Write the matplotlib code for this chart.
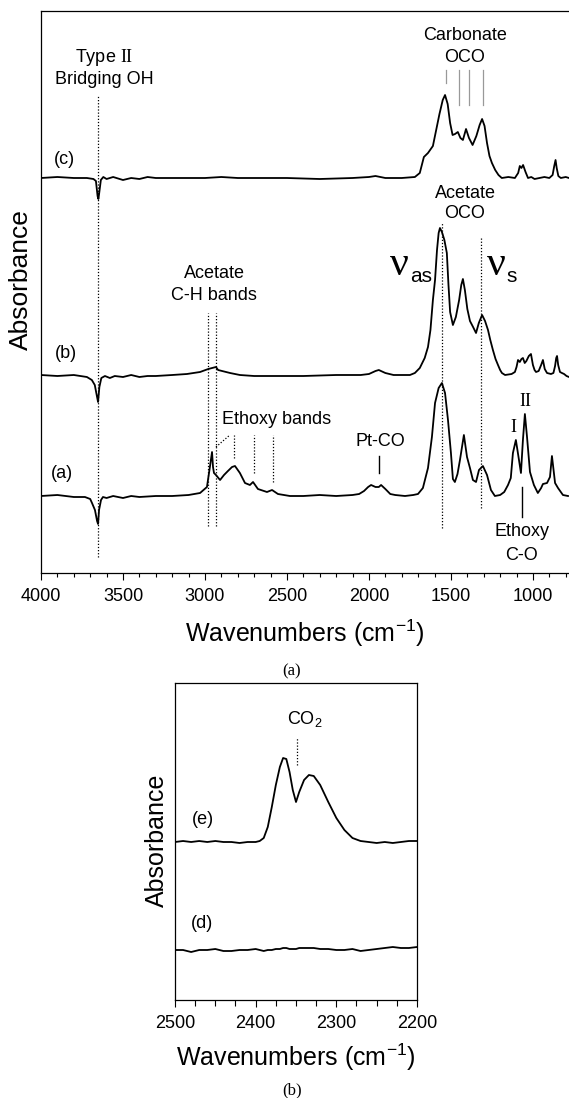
import matplotlib.pyplot as plt
from matplotlib.ticker import MultipleLocator

plt.rcParams['font.family'] = 'Liberation Sans'
plt.rcParams['mathtext.fontset'] = 'custom'
plt.rcParams['mathtext.rm'] = 'Liberation Serif'
plt.rcParams['mathtext.sf'] = 'Liberation Sans'

# spectra: wavenumber (cm-1) and absorbance above each baseline (a.u.)
wn_a = [4000, 3900, 3800, 3732, 3700, 3689, 3671, 3658, 3652, 3646, 3634, 3622, 3600, 3560, 3500,
        3450, 3400, 3300, 3200, 3100, 3030, 2988, 2970, 2957, 2951, 2945, 2933, 2908, 2884, 2860,
        2835, 2817, 2787, 2756, 2726, 2707, 2677, 2622, 2591, 2555, 2482, 2400, 2300, 2200, 2100,
        2060, 2030, 2005, 1987, 1960, 1940, 1926, 1900, 1870, 1840, 1780, 1730, 1701, 1671, 1640,
        1616, 1597, 1575, 1555, 1536, 1518, 1500, 1488, 1476, 1460, 1445, 1421, 1402, 1384, 1366,
        1347, 1329, 1305, 1280, 1256, 1232, 1200, 1175, 1152, 1135, 1122, 1104, 1085, 1073, 1061,
        1049, 1036, 1018, 994, 970, 950, 939, 914, 896, 884, 865, 847, 817, 786]
abs_a = [0, 0.01, -0.01, -0.01, -0.03, -0.07, -0.14, -0.25, -0.28, -0.14, -0.04, -0.01, -0.02, 0, -0.02,
         0, -0.01, 0, 0, 0.01, 0.03, 0.09, 0.29, 0.44, 0.29, 0.23, 0.21, 0.16, 0.21, 0.25,
         0.29, 0.30, 0.23, 0.13, 0.11, 0.14, 0.07, 0.04, 0.06, 0.02, 0, 0, 0.01, 0, 0.01,
         0.02, 0.05, 0.09, 0.11, 0.09, 0.09, 0.11, 0.07, 0.02, 0.01, 0, 0.01, 0.02, 0.08, 0.28,
         0.59, 0.93, 1.08, 1.13, 1.03, 0.76, 0.43, 0.17, 0.14, 0.22, 0.36, 0.61, 0.39, 0.28, 0.16,
         0.14, 0.26, 0.30, 0.21, 0.06, 0, 0.01, 0.04, 0.11, 0.18, 0.43, 0.56, 0.36, 0.23, 0.56,
         0.82, 0.59, 0.24, 0.11, 0.03, 0.08, 0.12, 0.13, 0.19, 0.40, 0.13, 0.08, 0.01, 0]

wn_b = [4000, 3900, 3800, 3720, 3690, 3672, 3658, 3652, 3644, 3632, 3610, 3580, 3550, 3500, 3450,
        3400, 3350, 3300, 3200, 3110, 3030, 2980, 2933, 2920, 2847, 2787, 2700, 2600, 2400, 2200,
        2050, 2000, 1960, 1940, 1900, 1850, 1780, 1750, 1720, 1690, 1660, 1640, 1625, 1610, 1597,
        1585, 1575, 1567, 1555, 1540, 1525, 1515, 1505, 1488, 1470, 1450, 1437, 1427, 1415, 1400,
        1384, 1365, 1347, 1330, 1310, 1292, 1274, 1260, 1244, 1228, 1213, 1200, 1189, 1170, 1130,
        1110, 1100, 1091, 1080, 1070, 1061, 1050, 1040, 1025, 1012, 1000, 990, 981, 965, 950,
        939, 928, 914, 890, 875, 865, 858, 853, 846, 835, 823, 810, 795, 780]
abs_b = [0, -0.01, 0, -0.02, -0.05, -0.10, -0.22, -0.27, -0.12, -0.03, -0.01, -0.03, -0.01, -0.02, 0,
         -0.02, -0.01, -0.01, 0, 0.01, 0.03, 0.06, 0.08, 0.05, 0.02, 0, -0.01, -0.01, -0.01, 0,
         0, 0.01, 0.04, 0.05, 0.02, 0, 0, 0, 0.02, 0.07, 0.17, 0.28, 0.45, 0.75, 0.95,
         1.25, 1.42, 1.47, 1.43, 1.35, 1.22, 0.90, 0.63, 0.50, 0.58, 0.75, 0.90, 0.96, 0.85, 0.66,
         0.54, 0.48, 0.42, 0.52, 0.60, 0.54, 0.45, 0.35, 0.25, 0.16, 0.10, 0.05, 0.02, 0, 0.01,
         0.03, 0.08, 0.15, 0.13, 0.16, 0.17, 0.12, 0.14, 0.19, 0.21, 0.10, 0.05, 0.03, 0.04, 0.10,
         0.15, 0.06, 0.02, 0.01, 0.02, 0.09, 0.17, 0.19, 0.10, 0.03, 0.02, 0.01, -0.01, -0.02]

wn_c = [4000, 3900, 3800, 3720, 3680, 3665, 3655, 3650, 3645, 3635, 3620, 3600, 3560, 3500, 3450,
        3400, 3350, 3300, 3200, 3000, 2900, 2800, 2500, 2300, 2100, 2000, 1960, 1900, 1800, 1720,
        1690, 1665, 1640, 1610, 1590, 1570, 1550, 1536, 1520, 1505, 1490, 1475, 1458, 1442, 1427,
        1408, 1390, 1368, 1345, 1325, 1310, 1295, 1280, 1265, 1250, 1230, 1210, 1190, 1150, 1110,
        1090, 1080, 1070, 1060, 1045, 1030, 1010, 990, 960, 930, 900, 880, 870, 862, 855,
        845, 830, 800, 780]
abs_c = [0, 0.01, 0, 0, -0.01, -0.03, -0.18, -0.21, -0.15, -0.02, 0.01, -0.01, 0.01, -0.02, 0,
         -0.01, 0.01, 0, 0, 0, 0.01, 0, 0, -0.01, 0, 0.01, 0.02, 0, 0, 0.01,
         0.05, 0.21, 0.25, 0.32, 0.48, 0.64, 0.78, 0.83, 0.74, 0.55, 0.43, 0.44, 0.46, 0.40, 0.38,
         0.49, 0.40, 0.33, 0.42, 0.53, 0.59, 0.52, 0.35, 0.22, 0.15, 0.08, 0.03, 0, 0.01, 0,
         0.05, 0.12, 0.10, 0.13, 0.06, 0, 0.01, -0.01, 0, 0.01, 0, 0.03, 0.12, 0.18, 0.10,
         0.02, 0, 0.01, 0]

wn_de = [2500, 2490, 2480, 2470, 2460, 2450, 2440, 2430, 2420, 2410, 2400, 2395, 2390, 2385, 2380,
         2375, 2370, 2366, 2362, 2358, 2354, 2350, 2346, 2340, 2334, 2328, 2320, 2310, 2300, 2290,
         2280, 2270, 2260, 2250, 2240, 2230, 2220, 2210, 2200]
abs_e = [0, 0.01, 0, 0.01, 0, 0.01, 0, 0, -0.01, 0, 0, 0.01, 0.04, 0.15, 0.35,
         0.57, 0.75, 0.84, 0.83, 0.70, 0.52, 0.40, 0.50, 0.62, 0.67, 0.66, 0.57, 0.40, 0.24, 0.12,
         0.04, 0.01, 0, -0.01, 0, -0.01, 0, 0.01, 0.01]
abs_d = [0, 0, -0.02, 0, 0, 0.01, -0.01, -0.01, 0, 0, 0.01, 0, -0.01, 0, 0,
         0.01, 0.01, 0.02, 0.02, 0.01, 0.01, 0.01, 0.02, 0.02, 0.02, 0.02, 0.01, 0.01, 0, 0,
         0.01, -0.01, 0, 0.01, 0.02, 0.03, 0.02, 0.02, 0.03]

offsets_top = {'a': 0.77, 'b': 1.98, 'c': 3.95}
offsets_bot = {'d': 0.50, 'e': 1.58}

fig = plt.figure(figsize=(5.69, 10.98), dpi=100)

# ---- panel (a)
ax = fig.add_axes([41 / 569, 1 - 573 / 1098, 1 - 41 / 569, 562 / 1098])
ax.plot(wn_a, [v + offsets_top['a'] for v in abs_a], color='black', lw=1.3)
ax.plot(wn_b, [v + offsets_top['b'] for v in abs_b], color='black', lw=1.3)
ax.plot(wn_c, [v + offsets_top['c'] for v in abs_c], color='black', lw=1.3)
ax.set_xlim(4000, 780)
ax.set_ylim(0, 5.62)
ax.xaxis.set_major_locator(MultipleLocator(500))
ax.xaxis.set_minor_locator(MultipleLocator(100))
ax.tick_params(axis='x', which='major', direction='out', length=5, width=0.8, labelsize=13, pad=6)
ax.tick_params(axis='x', which='minor', direction='out', length=3, width=0.8)
ax.set_yticks([])
ax.spines['right'].set_visible(False)
for s in ['top', 'left', 'bottom']:
    ax.spines[s].set_linewidth(0.9)

dot = dict(color='black', lw=0.9, ls=(0, (1, 1.5)))
ax.plot([3652, 3652], [0.16, 4.77], **dot)
ax.plot([2980, 2980], [0.47, 2.60], **dot)
ax.plot([2933, 2933], [0.47, 2.60], **dot)
ax.plot([2820, 2820], [1.15, 1.38], **dot)
ax.plot([2700, 2700], [1.00, 1.38], **dot)
ax.plot([2585, 2585], [0.91, 1.38], **dot)
ax.plot([2933, 2848], [1.26, 1.38], **dot)
ax.plot([1554, 1554], [0.45, 3.50], **dot)
ax.plot([1315, 1315], [0.65, 3.36], **dot)

for w, y0 in zip([1530, 1451, 1390, 1305], [4.90, 4.68, 4.68, 4.68]):
    ax.plot([w, w], [y0, 5.03], color='#999999', lw=0.9)
ax.plot([1939, 1939], [1.00, 1.17], color='black', lw=1.0)
ax.plot([1067, 1067], [0.56, 0.86], color='black', lw=1.0)

fs = 13
ax.text(3616, 5.15, r'Type $\mathrm{II}$', fontsize=fs, ha='center', va='center')
ax.text(3616, 4.93, 'Bridging OH', fontsize=fs, ha='center', va='center')
ax.text(3860, 4.13, '(c)', fontsize=fs, ha='center', va='center')
ax.text(3850, 2.19, '(b)', fontsize=fs, ha='center', va='center')
ax.text(3870, 1.00, '(a)', fontsize=fs, ha='center', va='center')
ax.text(1414, 5.38, 'Carbonate', fontsize=fs, ha='center', va='center')
ax.text(1414, 5.16, 'OCO', fontsize=fs, ha='center', va='center')
ax.text(1414, 3.80, 'Acetate', fontsize=fs, ha='center', va='center')
ax.text(1414, 3.59, 'OCO', fontsize=fs, ha='center', va='center')
ax.text(1817, 3.08, '\u03bd', fontsize=30, family='Liberation Serif', ha='center', va='center')
ax.text(1683, 2.97, 'as', fontsize=15, ha='center', va='center')
ax.text(1220, 3.08, '\u03bd', fontsize=30, family='Liberation Serif', ha='center', va='center')
ax.text(1128, 2.97, 's', fontsize=15, ha='center', va='center')
ax.text(2945, 3.00, 'Acetate', fontsize=fs, ha='center', va='center')
ax.text(2945, 2.78, 'C-H bands', fontsize=fs, ha='center', va='center')
ax.text(2896, 1.53, 'Ethoxy bands', fontsize=fs, ha='left', va='center')
ax.text(1933, 1.31, 'Pt-CO', fontsize=fs, ha='center', va='center')
ax.text(1049, 1.72, 'II', fontsize=fs, family='Liberation Serif', ha='center', va='center')
ax.text(1122, 1.45, 'I', fontsize=fs, family='Liberation Serif', ha='center', va='center')
ax.text(1067, 0.41, 'Ethoxy', fontsize=fs, ha='center', va='center')
ax.text(1067, 0.18, 'C-O', fontsize=fs, ha='center', va='center')

fig.text(305 / 569, 1 - 633 / 1098, r'Wavenumbers (cm$^{\mathsf{-1}}$)', fontsize=18,
         ha='center', va='center')
fig.text(21 / 569, 1 - 280 / 1098, 'Absorbance', fontsize=19, rotation=90,
         ha='center', va='center')
fig.text(292 / 569, 1 - 671 / 1098, '(a)', fontsize=12, family='Liberation Serif',
         ha='center', va='center')

# ---- panel (b)
bx = fig.add_axes([175 / 569, 1 - 1000 / 1098, 242 / 569, 317 / 1098])
bx.plot(wn_de, [v + offsets_bot['e'] for v in abs_e], color='black', lw=1.3)
bx.plot(wn_de, [v + offsets_bot['d'] for v in abs_d], color='black', lw=1.3)
bx.set_xlim(2500, 2200)
bx.set_ylim(0, 3.17)
bx.xaxis.set_major_locator(MultipleLocator(100))
bx.xaxis.set_minor_locator(MultipleLocator(25))
bx.tick_params(axis='x', which='major', direction='out', length=5, width=0.8, labelsize=13, pad=6)
bx.tick_params(axis='x', which='minor', direction='out', length=4, width=0.8)
bx.set_yticks([])
for s in bx.spines.values():
    s.set_linewidth(0.9)
bx.plot([2349, 2349], [2.35, 2.63], **dot)
bx.text(2339, 2.81, r'CO$_{\mathsf{2}}$', fontsize=fs, ha='center', va='center')
bx.text(2465, 1.80, '(e)', fontsize=fs, ha='center', va='center')
bx.text(2466, 0.77, '(d)', fontsize=fs, ha='center', va='center')

fig.text(296 / 569, 1 - 1057 / 1098, r'Wavenumbers (cm$^{\mathsf{-1}}$)', fontsize=18,
         ha='center', va='center')
fig.text(157 / 569, 1 - 840 / 1098, 'Absorbance', fontsize=18, rotation=90,
         ha='center', va='center')
fig.text(292 / 569, 1 - 1090 / 1098, '(b)', fontsize=12, family='Liberation Serif',
         ha='center', va='center')

fig.savefig('out.png', dpi=100)
